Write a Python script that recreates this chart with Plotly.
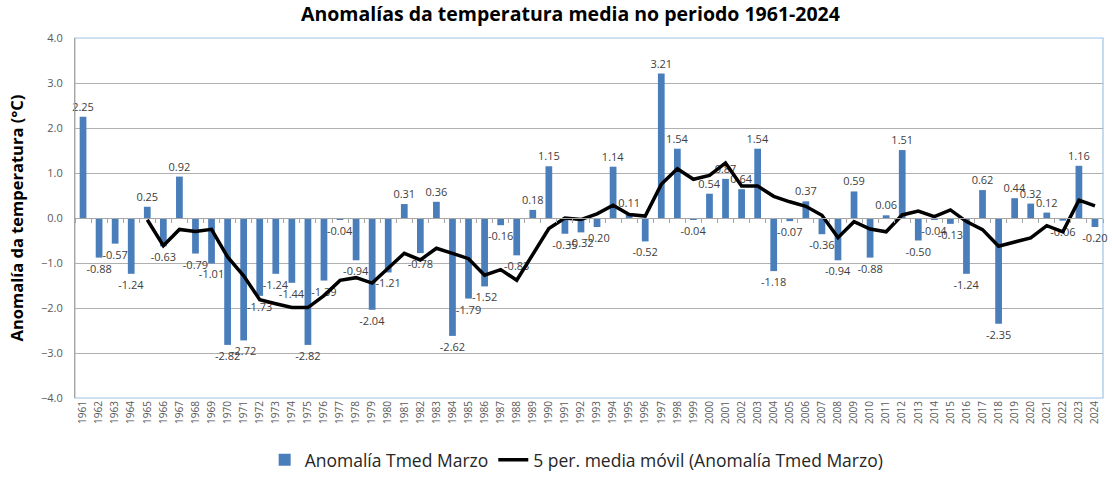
import plotly.graph_objects as go
import pandas as pd

years = [str(y) for y in range(1961, 2025)]
anomalia = [2.25, -0.88, -0.57, -1.24, 0.25, -0.63, 0.92, -0.79, -1.01, -2.82,
            -2.72, -1.73, -1.24, -1.44, -2.82, -1.39, -0.04, -0.94, -2.04, -1.21,
            0.31, -0.78, 0.36, -2.62, -1.79, -1.52, -0.16, -0.83, 0.18, 1.15,
            -0.35, -0.32, -0.20, 1.14, 0.11, -0.52, 3.21, 1.54, -0.04, 0.54,
            0.87, 0.64, 1.54, -1.18, -0.07, 0.37, -0.36, -0.94, 0.59, -0.88,
            0.06, 1.51, -0.50, -0.04, -0.13, -1.24, 0.62, -2.35, 0.44, 0.32,
            0.12, -0.06, 1.16, -0.20]
ytick_vals = [-4, -3, -2, -1, 0, 1, 2, 3, 4]

media_movil = pd.Series(anomalia).rolling(5).mean().tolist()

FONT = "Open Sans"
fig = go.Figure()
fig.add_trace(go.Bar(
    x=years, y=anomalia, name="Anomalía Tmed Marzo",
    marker=dict(color="#4a7ebb", line=dict(width=0)),
    texttemplate="%{y:.2f}", textposition="outside", constraintext="none",
    textfont=dict(size=11, color="#404040", family=FONT), cliponaxis=False,
))
fig.add_trace(go.Scatter(
    x=years, y=media_movil, name="5 per. media móvil (Anomalía Tmed Marzo)",
    mode="lines", line=dict(color="black", width=3.5),
))
# invisible helper trace so the zero-crossing axis gets its category ticks
fig.add_trace(go.Scatter(x=years, y=anomalia, xaxis="x2", mode="markers",
                         marker=dict(opacity=0), showlegend=False, hoverinfo="skip"))

fig.update_layout(
    width=1112, height=478,
    margin=dict(l=75, r=9, t=38, b=80, autoexpand=False),
    paper_bgcolor="white", plot_bgcolor="white",
    bargap=0.58,
    font=dict(family=FONT, color="#404040"),
    title=dict(text="<b>Anomalías da temperatura media no periodo 1961-2024</b>",
               x=0.513, xanchor="center", y=0.985, yanchor="top",
               font=dict(size=19.5, color="black", family=FONT)),
    xaxis=dict(type="category", categoryorder="array", categoryarray=years,
               range=[-0.5, len(years) - 0.5],
               tickangle=-90, tickfont=dict(size=10, color="#595959"),
               showgrid=False, ticks="", showline=False, zeroline=False,
               automargin=False),
    xaxis2=dict(type="category", categoryorder="array", categoryarray=years,
                overlaying="x", anchor="free", position=0.5, matches="x",
                showticklabels=False, ticks="outside", tickson="boundaries",
                ticklen=4, tickcolor="#a6a6a6", showline=True, linecolor="#a6a6a6",
                linewidth=1, showgrid=False),
    yaxis=dict(range=[-4, 4], tickvals=ytick_vals, tickformat=".1f",
               tickfont=dict(size=11, color="#595959"),
               showgrid=True, gridcolor="#b0b0b0", gridwidth=1,
               zeroline=False, showline=True, linecolor="#a6a6a6", linewidth=1,
               ticks="", ticklabelstandoff=9, automargin=False,
               title=dict(text="<b>Anomalía da temperatura (°C)</b>",
                          font=dict(size=16.5, color="black", family=FONT), standoff=13)),
    legend=dict(orientation="h", x=0.488, xanchor="center", y=-0.222, yanchor="bottom",
                font=dict(size=17.5, color="#262626", family=FONT),
                itemwidth=30, tracegroupgap=0),
    showlegend=True,
)
fig.add_shape(type="rect", xref="paper", yref="paper", x0=0, x1=1, y0=0, y1=1,
              line=dict(color="#9dc3e6", width=1.2), layer="below")
fig.write_html("out.html", config={"displayModeBar": False},
               post_script="document.body.style.margin='0';document.body.style.overflow='hidden';")
